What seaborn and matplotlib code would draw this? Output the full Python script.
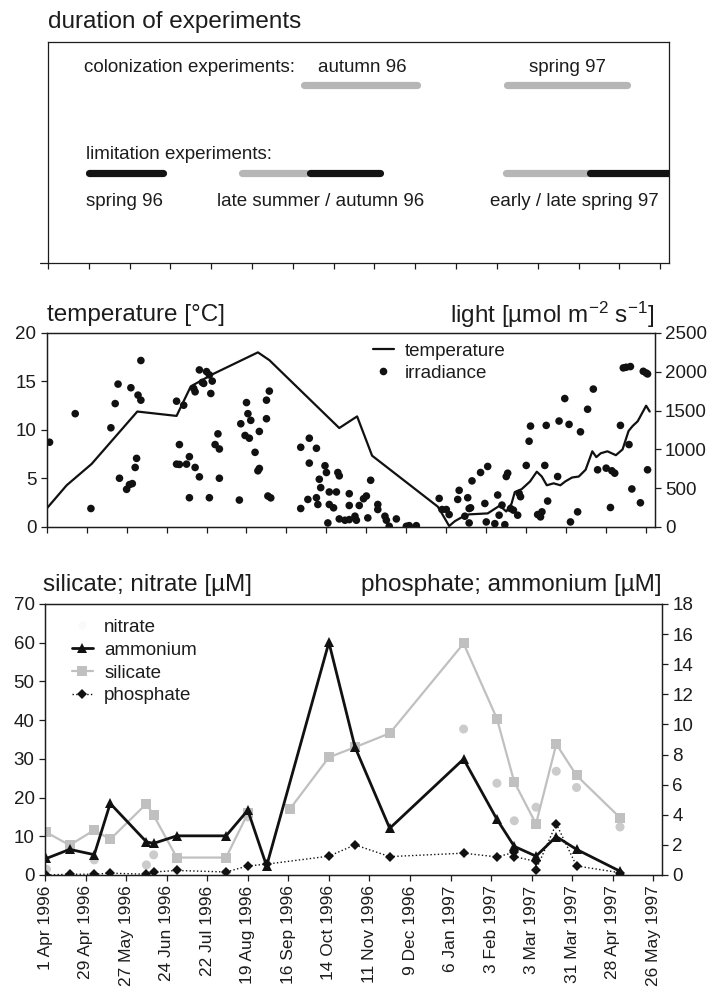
import numpy as np
import pandas as pd
import matplotlib
matplotlib.use("Agg")
import matplotlib.pyplot as plt
import seaborn as sns
from matplotlib.lines import Line2D

START = pd.Timestamp("1996-04-01")

# ---------------- x axis tick labels (every 28 days) ----------------
tick_labels = ["1 Apr 1996", "29 Apr 1996", "27 May 1996", "24 Jun 1996", "22 Jul 1996",
               "19 Aug 1996", "16 Sep 1996", "14 Oct 1996", "11 Nov 1996", "9 Dec 1996",
               "6 Jan 1997", "3 Feb 1997", "3 Mar 1997", "31 Mar 1997", "28 Apr 1997",
               "26 May 1997"]

# ---------------- duration of experiments ----------------
exp_type = ["colonization", "colonization", "limitation", "limitation",
            "limitation", "limitation", "limitation"]
exp_phase = ["grey", "grey", "black", "grey", "black", "grey", "black"]
exp_start = ["1996-09-24", "1997-02-10", "1996-04-29", "1996-08-12",
             "1996-09-28", "1997-02-09", "1997-04-08"]
exp_end = ["1996-12-10", "1997-05-03", "1996-06-19", "1996-09-25",
           "1996-11-15", "1997-04-08", "1997-06-01"]

# ---------------- temperature (days since 1 Apr 1996, deg C) ----------------
temp_day = [0, 14, 31.5, 63.5, 91, 101, 117, 148, 156, 205, 217.5, 228, 274, 276.5,
            282, 286, 292, 296, 309, 317.4, 322, 325.7, 328, 332.8, 338.7, 343.4,
            346.9, 350.4, 355.2, 359.9, 363.4, 368.1, 372.8, 377.6, 382.3, 385.1,
            388.2, 392.9, 398.8, 403.5, 407.7, 410.5, 414.1, 420, 422.5]
temp_val = [1.9, 4.3, 6.5, 11.9, 11.45, 14.5, 15.8, 18.0, 17.2, 10.2, 11.4, 7.35, 2.1,
            1.5, 0.1, 0.6, 1.1, 1.3, 1.4, 2.2, 1.6, 2.4, 3.6, 3.9, 4.7, 5.7, 5.2,
            4.3, 4.5, 4.3, 4.7, 5.1, 5.2, 5.9, 7.8, 7.2, 7.6, 7.8, 7.4, 8.0, 9.9,
            10.4, 10.9, 12.5, 11.9]

# ---------------- irradiance (days since 1 Apr 1996, umol m-2 s-1) ----------------
irr_day = [2, 20, 31, 45, 48, 50, 51, 56, 58, 60, 62, 63, 59, 64, 66, 66,
           91, 93, 91, 93, 98, 100, 104, 107, 100, 114, 96, 103, 104, 107, 110,
           112, 114, 116, 115, 109, 120, 118, 121, 121, 135, 136, 140, 141, 143,
           139, 142, 149, 146, 149, 148, 155, 157, 156, 154, 154,
           178, 184, 189, 184, 195, 196, 204, 205, 191, 192, 198, 203, 183, 189,
           190, 178, 198, 201, 212, 212, 219, 222, 224, 227, 232, 232, 237, 225,
           216, 217, 205, 209, 212, 197, 238, 240, 245, 252, 254, 259,
           275, 277, 280, 282, 288, 289, 295, 296, 297, 298, 304, 309, 293, 296,
           307, 316, 319, 317, 308, 314, 321, 322, 323, 325, 327, 330, 331, 332,
           336, 338, 339, 349, 350, 351, 344, 346, 347, 359, 366, 363, 358, 367,
           372, 374, 379, 383, 386, 392, 396, 398, 395, 402, 408, 410, 416, 404,
           406, 409, 418, 420, 421, 421]
irr_val = [1092, 1460, 238, 1278, 1590, 1841, 628, 485, 546, 559, 767, 884, 1794,
           1699, 1634, 2145,
           1621, 1062, 810, 806, 810, 906, 767, 646, 377, 377, 1569, 1785, 1742,
           2024, 1850, 2002, 1959, 1880, 1720, 1863, 1200, 1062, 1005, 628, 347,
           1330, 1603, 1460, 1374, 1179, 1144, 1231, 962, 754, 724, 399, 375, 1751,
           1634, 1395,
           1027, 1144, 1014, 823, 789, 702, 702, 659, 615, 507, 451, 451, 355, 377,
           290, 238, 290, 247, 429, 277, 277, 364, 399, 602, 290, 225, 139, 117,
           139, 87, 104, 87, 95, 52, 87, 9, 104, 9, 17, 17,
           368, 225, 225, 160, 355, 472, 377, 238, 247, 594, 702, 780, 139, 52,
           303, 412, 282, 152, 65, 43, 30, 650, 693, 238, 217, 152, 433, 390,
           793, 1105, 1300, 793, 1309, 334, 160, 130, 195, 1365, 1322, 1655, 650,
           65, 195, 1226, 1517, 1777, 737, 758, 724, 693, 251, 1309, 1062, 490,
           312, 2050, 2058, 2067, 2006, 1985, 1972, 737]

# ---------------- nutrients ----------------
sample_dates = ["1996-04-02", "1996-04-18", "1996-05-05", "1996-05-16", "1996-06-10",
                "1996-06-15", "1996-07-01", "1996-08-04", "1996-08-19", "1996-09-01",
                "1996-09-17", "1996-10-14", "1996-11-01", "1996-11-25", "1997-01-15",
                "1997-02-07", "1997-02-19", "1997-03-06", "1997-03-20", "1997-04-03",
                "1997-05-03"]
nan = np.nan
ammonium = [1.1, 1.7, 1.35, 4.75, 2.2, 2.1, 2.6, 2.6, 4.3, 0.6, nan, 15.45, 8.5, 3.1,
            7.7, 3.7, 1.9, 1.25, 2.55, 1.7, 0.25]
silicate = [11.0, 7.7, 11.6, 9.2, 18.4, 15.4, 4.5, 4.5, 15.9, nan, 17.0, 30.4, 33.0,
            36.6, 59.8, 40.4, 24.0, 13.2, 33.8, 25.7, 14.8]
nitrate = [1.5, nan, 3.9, nan, 2.6, 5.2, nan, 0.5, 15.0, nan, nan, nan, nan, nan,
           37.7, 23.7, 14.0, 17.5, 26.8, 22.6, 12.4]
phos_dates = ["1996-04-02", "1996-04-18", "1996-05-05", "1996-05-16", "1996-06-10",
              "1996-06-15", "1996-07-01", "1996-08-04", "1996-08-19", "1996-09-01",
              "1996-10-14", "1996-11-01", "1996-11-25", "1997-01-15", "1997-02-07",
              "1997-02-19", "1997-02-19", "1997-03-06", "1997-03-06", "1997-03-20",
              "1997-04-03", "1997-05-03"]
phosphate = [0.0, 0.05, 0.05, 0.12, 0.05, 0.2, 0.3, 0.2, 0.6, 0.72, 1.25, 2.0, 1.22,
             1.45, 1.2, 1.5, 1.22, 0.9, 0.35, 3.4, 0.6, 0.15]

# ======================================================================
sns.set_theme(style="ticks")
plt.rcParams["font.family"] = ["Liberation Sans", "DejaVu Sans"]
plt.rcParams["mathtext.default"] = "regular"
INK = "#1c1c1c"
plt.rcParams.update({
    "axes.edgecolor": INK, "axes.linewidth": 0.9,
    "xtick.color": INK, "ytick.color": INK,
    "xtick.major.width": 0.9, "ytick.major.width": 0.9,
    "xtick.major.size": 4, "ytick.major.size": 4,
    "xtick.direction": "out", "ytick.direction": "out",
    "text.color": INK,
})
FS_TITLE = 17.5
FS = 13.5

def to_day(dates):
    return np.asarray((pd.to_datetime(dates) - START).days, dtype=float)

tick_days = to_day(pd.to_datetime(tick_labels, format="%d %b %Y"))
XLIM = (0, 426)

fig = plt.figure(figsize=(7.17, 9.96), dpi=100)
ax_top = fig.add_axes([0.0669, 0.7359, 0.866, 0.2219])
ax_mid = fig.add_axes([0.0651, 0.4709, 0.848, 0.1948])
ax_bot = fig.add_axes([0.0628, 0.1215, 0.8605, 0.2721])

# ---------------- top panel ----------------
ax_top.set_xlim(*XLIM)
ax_top.set_ylim(0, 1)
ax_top.set_xticks(tick_days)
ax_top.set_xticklabels([])
ax_top.set_yticks([])
ax_top.plot([-0.013, 0], [0, 0], transform=ax_top.transAxes, clip_on=False,
            color=INK, lw=0.9)
row_y = {"colonization": 0.805, "limitation": 0.406}
phase_col = {"grey": "#b6b6b6", "black": "#141414"}
s_days, e_days = to_day(exp_start), to_day(exp_end)
for phase in ["grey", "black"]:
    for t, p, s, e in zip(exp_type, exp_phase, s_days, e_days):
        if p != phase:
            continue
        lc = ax_top.hlines(row_y[t], s, e, color=phase_col[p], lw=5.2)
        lc.set_capstyle("round")
ax_top.text(0, 1.09, "duration of experiments", transform=ax_top.transAxes,
            fontsize=FS_TITLE, ha="left", va="center")
txt_kw = dict(fontsize=FS, va="center", ha="left")
ax_top.text(25, 0.883, "colonization experiments:", **txt_kw)
ax_top.text(185, 0.883, "autumn 96", **txt_kw)
ax_top.text(330, 0.883, "spring 97", **txt_kw)
ax_top.text(26, 0.493, "limitation experiments:", **txt_kw)
ax_top.text(26, 0.278, "spring 96", **txt_kw)
ax_top.text(116, 0.278, "late summer / autumn 96", **txt_kw)
ax_top.text(303, 0.278, "early / late spring 97", **txt_kw)

# ---------------- middle panel ----------------
sns.lineplot(x=temp_day, y=temp_val, ax=ax_mid, color="#111111", lw=1.6,
             estimator=None, sort=False)
ax_mid.set_xlim(*XLIM)
ax_mid.set_ylim(0, 20)
ax_mid.set_yticks([0, 5, 10, 15, 20])
ax_mid.set_xticks(tick_days)
ax_mid.set_xticklabels([])
ax_mid.set_xlabel("")
ax_mid.set_ylabel("")
ax_mid.tick_params(labelsize=FS)
ax_mid2 = ax_mid.twinx()
sns.scatterplot(x=irr_day, y=irr_val, ax=ax_mid2, color="#111111", s=30,
                edgecolor="none", linewidth=0)
ax_mid2.set_xlim(*XLIM)
ax_mid2.set_ylim(0, 2500)
ax_mid2.set_yticks([0, 500, 1000, 1500, 2000, 2500])
ax_mid2.set_ylabel("")
ax_mid2.tick_params(labelsize=FS)
ax_mid.text(0, 1.095, "temperature [°C]", transform=ax_mid.transAxes,
            fontsize=FS_TITLE, ha="left", va="center")
ax_mid.text(1, 1.095, "light [µmol m$^{-2}$ s$^{-1}$]", transform=ax_mid.transAxes,
            fontsize=FS_TITLE, ha="right", va="center")
mid_handles = [Line2D([], [], color="#111111", lw=1.6),
               Line2D([], [], color="#111111", lw=0, marker="o", markersize=5.5,
                      markeredgewidth=0)]
ax_mid2.legend(mid_handles, ["temperature", "irradiance"], loc="upper left",
               bbox_to_anchor=(0.537, 0.95), frameon=False, fontsize=FS,
               borderpad=0, borderaxespad=0, handlelength=1.1, handletextpad=0.6,
               labelspacing=0.25)

# ---------------- bottom panel ----------------
sd = to_day(sample_dates)
sil = pd.DataFrame({"day": sd, "val": silicate})
sil["seg"] = sil["val"].isna().cumsum()
sil = sil.dropna()
sns.lineplot(data=sil, x="day", y="val", units="seg", estimator=None, ax=ax_bot,
             color="#c0c0c0", lw=1.6, marker="s", markersize=6.5,
             markeredgewidth=0, markerfacecolor="#c0c0c0")
nit = pd.DataFrame({"day": sd, "val": nitrate}).dropna()
sns.scatterplot(data=nit, x="day", y="val", ax=ax_bot, color="#cbcbcb", s=42,
                edgecolor="none", linewidth=0)
ax_bot.set_xlim(*XLIM)
ax_bot.set_ylim(0, 70)
ax_bot.set_yticks(range(0, 71, 10))
ax_bot.set_xlabel("")
ax_bot.set_ylabel("")
ax_bot.set_xticks(tick_days)
ax_bot.set_xticklabels(tick_labels, rotation=90, fontsize=12.5)
ax_bot.tick_params(axis="y", labelsize=FS)

ax_bot2 = ax_bot.twinx()
amm = pd.DataFrame({"day": sd, "val": ammonium}).dropna()
sns.lineplot(data=amm, x="day", y="val", ax=ax_bot2, estimator=None, sort=False,
             color="#111111", lw=2.0, marker="^", markersize=7.5,
             markeredgewidth=0)
pho = pd.DataFrame({"day": to_day(phos_dates), "val": phosphate})
sns.lineplot(data=pho, x="day", y="val", ax=ax_bot2, estimator=None, sort=False,
             color="#111111", lw=1.0, linestyle=":", marker="D", markersize=5.5,
             markeredgewidth=0)
ax_bot2.set_xlim(*XLIM)
ax_bot2.set_ylim(0, 18)
ax_bot2.set_yticks(range(0, 19, 2))
ax_bot2.set_ylabel("")
ax_bot2.tick_params(labelsize=FS)
ax_bot.text(-0.004, 1.07, "silicate; nitrate [µM]", transform=ax_bot.transAxes,
            fontsize=FS_TITLE, ha="left", va="center")
ax_bot.text(1, 1.07, "phosphate; ammonium [µM]", transform=ax_bot.transAxes,
            fontsize=FS_TITLE, ha="right", va="center")
bot_handles = [
    Line2D([], [], color="none", marker="o", markersize=6, markerfacecolor="#fafafa",
           markeredgewidth=0),
    Line2D([], [], color="#111111", lw=2.0, marker="^", markersize=7.5,
           markeredgewidth=0),
    Line2D([], [], color="#c0c0c0", lw=1.6, marker="s", markersize=6.5,
           markeredgewidth=0),
    Line2D([], [], color="#111111", lw=1.0, linestyle=":", marker="D",
           markersize=5.5, markeredgewidth=0),
]
ax_bot2.legend(bot_handles, ["nitrate", "ammonium", "silicate", "phosphate"],
               loc="upper left", bbox_to_anchor=(0.044, 0.945), frameon=False,
               fontsize=FS, borderpad=0, borderaxespad=0, handlelength=1.1,
               handletextpad=0.6, labelspacing=0.3)

fig.savefig("out.png", dpi=100)
